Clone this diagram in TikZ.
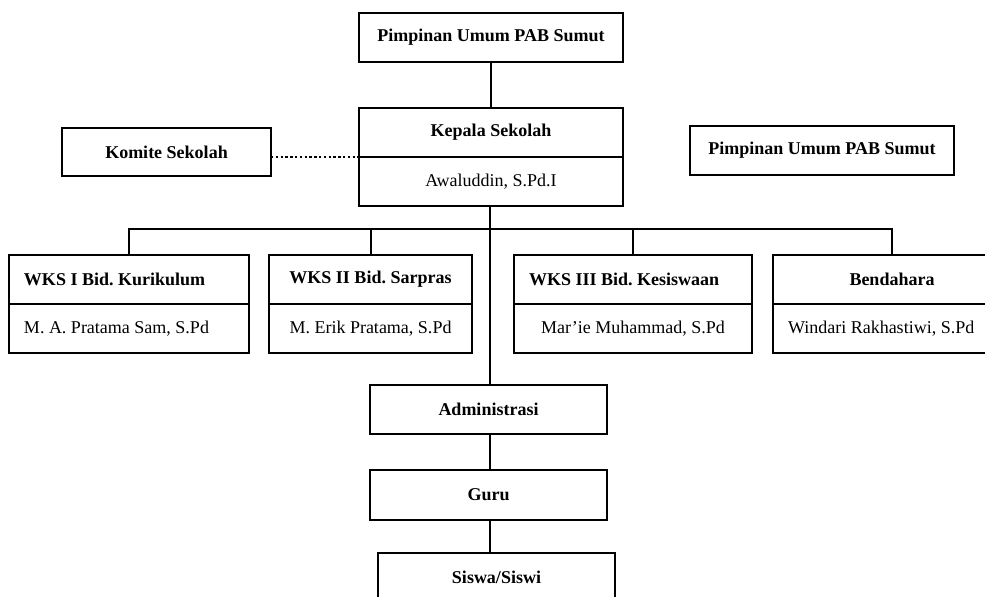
\documentclass[tikz,border=0pt]{standalone}
\usepackage{fontspec}
\setmainfont{Liberation Serif}
\usetikzlibrary{
	positioning
}

\tikzset{
	orgbox/.style={
		draw,
		line width=1pt,
		inner sep=0pt,
		outer sep=0pt,
		minimum height=24.5pt,
		font=\fontsize{9}{11}\selectfont\bfseries
	},
	namebox/.style={
		orgbox,
		font=\fontsize{9}{11}\selectfont
	},
	leftbox/.style={
		inner xsep=7.5pt,
		text width=#1,
		align=flush left
	}
}

\begin{document}
\frenchspacing
\begin{tikzpicture}[x=0.5pt,y=-0.5pt]
	
	\useasboundingbox (0,0) rectangle (985,596);
	\clip (0,0) rectangle (985,596);
	
	% pimpinan dan kepala sekolah
	\node[orgbox, minimum width=132pt] (top) at (491,37.5) {Pimpinan Umum PAB Sumut};
	\node[orgbox, minimum width=132pt] (kepalaT) at (491,132.5) {Kepala Sekolah};
	\node[namebox, minimum width=132pt, below=0pt of kepalaT] (kepalaB) {Awaluddin, S.Pd.I};
	
	\node[orgbox, minimum width=104.5pt, minimum height=24pt] (komite) at (166.5,152) {Komite Sekolah};
	\node[orgbox, minimum width=132pt] (pimpinanR) at (822,150.5) {Pimpinan Umum PAB Sumut};
	
	% wakil kepala sekolah dan bendahara
	\node[orgbox, minimum width=120pt, leftbox=105pt] (wks1T) at (129,279.5) {WKS I Bid. Kurikulum};
	\node[namebox, minimum width=120pt, leftbox=105pt, below=0pt of wks1T] (wks1B) {M. A. Pratama Sam, S.Pd};
	
	\node[orgbox, minimum width=101.5pt] (wks2T) at (370.5,279.5) {WKS II Bid. Sarpras};
	\node[namebox, minimum width=101.5pt, below=0pt of wks2T] (wks2B) {M. Erik Pratama, S.Pd};
	
	\node[orgbox, minimum width=119pt, leftbox=104pt] (wks3T) at (633,279.5) {WKS III Bid. Kesiswaan};
	\node[namebox, minimum width=119pt, below=0pt of wks3T] (wks3B) {Mar'ie Muhammad, S.Pd};
	
	\node[orgbox, minimum width=119pt] (wks4T) at (892,279.5) {Bendahara};
	\node[namebox, minimum width=119pt, leftbox=104pt, below=0pt of wks4T] (wks4B) {Windari Rakhastiwi, S.Pd};
	
	% administrasi, guru, siswa
	\node[orgbox, minimum width=118.5pt] (admin) at (488.5,409.5) {Administrasi};
	\node[orgbox, minimum width=118.5pt, minimum height=25pt] (guru) at (488.5,495) {Guru};
	\node[orgbox, minimum width=118.5pt] (siswa) at (496.5,577.5) {Siswa/Siswi};
	
	% garis
	\coordinate (bus) at (490,229);
	
	\draw[line width=1pt] (top) -- (kepalaT);
	\draw[line width=1pt] (kepalaB.south -| bus) -- (admin.north -| bus);
	\draw[line width=1pt] (wks1T.north) |- (bus) -| (wks4T.north);
	\draw[line width=1pt] (wks2T.north) -- (wks2T.north |- bus);
	\draw[line width=1pt] (wks3T.north) -- (wks3T.north |- bus);
	\draw[line width=1pt] (admin.south -| bus) -- (guru.north -| bus);
	\draw[line width=1pt] (guru.south -| bus) -- (siswa.north -| bus);
	\draw[line width=1.2pt, dash pattern=on 1.2pt off 1.2pt] (komite.east |- kepalaB.north) -- (kepalaB.north west);
	
\end{tikzpicture}
\end{document}
